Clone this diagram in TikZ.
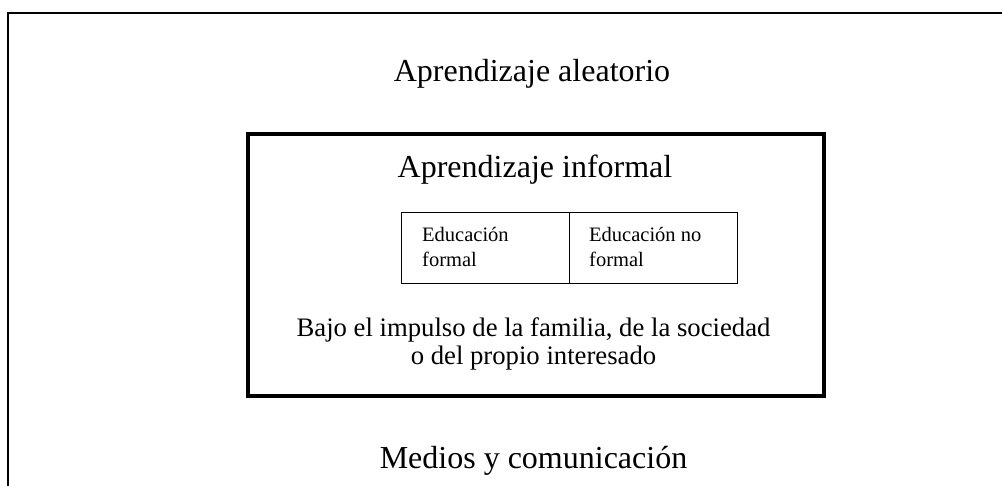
\documentclass[tikz,border=0pt]{standalone}
\usepackage{fontspec}
\setmainfont{Liberation Serif}
\begin{document}
\begin{tikzpicture}[x=1pt,y=-1pt,
  big/.style={font=\fontsize{32}{38}\selectfont, inner sep=0pt, anchor=base},
  mid/.style={font=\fontsize{26.7}{28}\selectfont, inner sep=0pt, anchor=base},
  small/.style={font=\fontsize{20.5}{25}\selectfont, inner sep=0pt, anchor=base west},
  cell/.style={draw, line width=1.3pt}]
\useasboundingbox (0,0) rectangle (1002,486);
\clip (0,0) rectangle (1002,486);
% outer frame (cropped)
\draw[line width=2pt] (8,520) -- (8,13.5) -- (1010,13.5);
% inner thick box
\draw[line width=4pt] (248,134) rectangle (824,396);
% small boxes
\node[cell, minimum width=168pt, minimum height=71pt, anchor=north west] (ef) at (401,212) {};
\node[cell, minimum width=168pt, minimum height=71pt, anchor=north west] (enf) at (569,212) {};
\node[small] (tef1) at (422,242) {Educación};
\node[small] (tef2) at (422,267) {formal};
\node[small] (tenf1) at (589,242) {Educación no};
\node[small] (tenf2) at (589,267) {formal};
% texts
\node[big] (alea) at (532,82) {Aprendizaje aleatorio};
\node[big] (inf) at (535,178) {Aprendizaje informal};
\node[mid] (bajo1) at (533.5,337) {Bajo el impulso de la familia, de la sociedad};
\node[mid] (bajo2) at (533.5,365) {o del propio interesado};
\node[big] (med) at (533.5,468) {Medios y comunicación};
\end{tikzpicture}
\end{document}
